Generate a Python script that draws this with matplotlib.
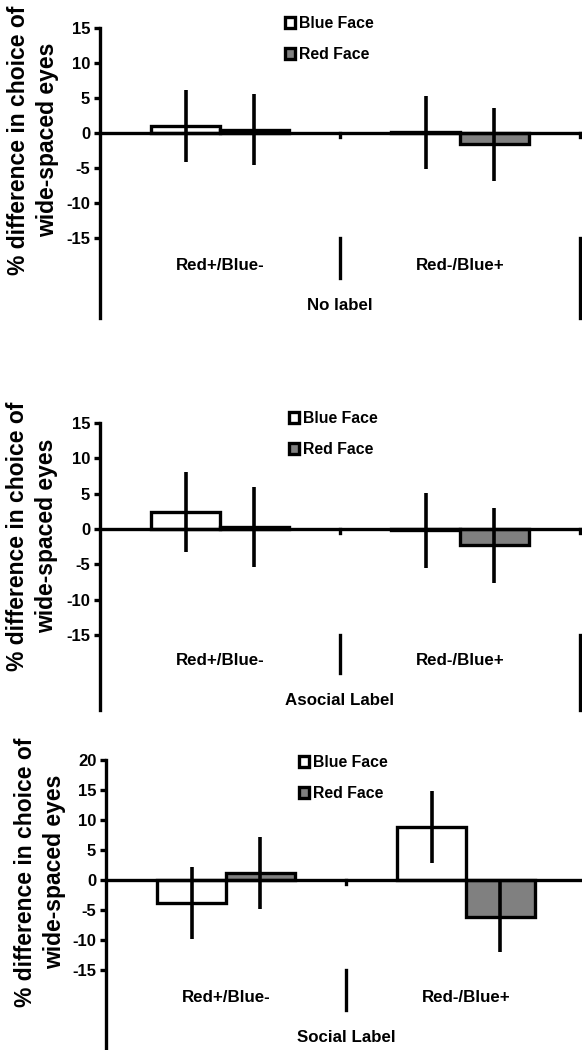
import matplotlib
matplotlib.use("Agg")
import matplotlib.pyplot as plt
import matplotlib.patches as mpatches
import numpy as np

plt.rcParams['font.family'] = ['Liberation Sans', 'DejaVu Sans']
plt.rcParams['font.weight'] = 'bold'

# ---------------- data ----------------
groups = ["Red+/Blue-", "Red-/Blue+"]
series = ["Blue Face", "Red Face"]
panel_titles = ["No label", "Asocial Label", "Social Label"]

blue_mean = [[1.0, 0.1], [2.4, -0.2], [-3.8, 8.9]]
blue_err = [[5.1, 5.2], [5.6, 5.3], [6.0, 6.0]]
red_mean = [[0.5, -1.6], [0.3, -2.3], [1.2, -6.1]]
red_err = [[5.1, 5.2], [5.7, 5.3], [6.0, 5.9]]

yticks_list = [[15, 10, 5, 0, -5, -10, -15],
               [15, 10, 5, 0, -5, -10, -15],
               [20, 15, 10, 5, 0, -5, -10, -15]]
ytop_list = [15, 15, 20]

ylabel = "% difference in choice of\nwide-spaced eyes"

# ---------------- layout (pixels) ----------------
W, H = 582, 1050
fig = plt.figure(figsize=(W / 100, H / 100), dpi=100)

layout = [
    dict(left=100, right=580, ytop_px=28, yzero_px=133, ybot_px=318, sep_px=278,
         cat_px=265, title_px=305, leg_x=285, leg_y=16, lab_x=33, lab_y=140, right_line=True),
    dict(left=100, right=580, ytop_px=423, yzero_px=529, ybot_px=710, sep_px=673,
         cat_px=660, title_px=700, leg_x=289, leg_y=411, lab_x=32, lab_y=536, right_line=True),
    dict(left=106, right=586, ytop_px=760, yzero_px=880, ybot_px=1050, sep_px=1010,
         cat_px=997, title_px=1037, leg_x=299, leg_y=755, lab_x=40, lab_y=872, right_line=False),
]

LW = 2.4
GRAY = "#808080"
bar_w = 1 / 3.5
x = np.arange(len(groups))

for i, L in enumerate(layout):
    scale = (L['yzero_px'] - L['ytop_px']) / ytop_list[i]
    ylo = -(L['ybot_px'] - L['yzero_px']) / scale
    ax = fig.add_axes([L['left'] / W, 1 - L['ybot_px'] / H,
                       (L['right'] - L['left']) / W,
                       (L['ybot_px'] - L['ytop_px']) / H])
    ax.set_xlim(-0.5, 1.5)
    ax.set_ylim(ylo, ytop_list[i])
    ax.patch.set_alpha(0)
    for s in ['top', 'right', 'bottom']:
        ax.spines[s].set_visible(False)
    ax.spines['left'].set_linewidth(LW)
    ax.set_xticks([])
    ax.set_yticks(yticks_list[i])
    ax.set_yticklabels([str(t) for t in yticks_list[i]])
    ax.tick_params(axis='y', length=4, width=LW, labelsize=12, pad=3)

    # bars
    ax.bar(x - bar_w / 2, blue_mean[i], bar_w, facecolor='white', edgecolor='black',
           linewidth=LW, zorder=2)
    ax.bar(x + bar_w / 2, red_mean[i], bar_w, facecolor=GRAY, edgecolor='black',
           linewidth=LW, zorder=2)
    ax.errorbar(x - bar_w / 2, blue_mean[i], yerr=blue_err[i], fmt='none',
                ecolor='black', elinewidth=LW + 0.2, capsize=0, zorder=3)
    ax.errorbar(x + bar_w / 2, red_mean[i], yerr=red_err[i], fmt='none',
                ecolor='black', elinewidth=LW + 0.2, capsize=0, zorder=3)

    # zero axis line + ticks
    ax.axhline(0, color='black', linewidth=LW, zorder=2.5, clip_on=False)
    tick_len = 4 / scale
    ax.plot([0.5, 0.5], [0, -tick_len], color='black', linewidth=LW, clip_on=False)
    ax.plot([1.5, 1.5], [0, -tick_len], color='black', linewidth=LW, clip_on=False)

    # multi-level category separators
    ymin15 = -15
    sep_bot = -(L['sep_px'] - L['yzero_px']) / scale
    ax.plot([0.5, 0.5], [ymin15, sep_bot], color='black', linewidth=LW, clip_on=False)
    if L['right_line']:
        ax.plot([1.5, 1.5], [ymin15, ylo], color='black', linewidth=LW, clip_on=False)

    cat_y = -(L['cat_px'] - L['yzero_px']) / scale
    for gx, g in zip(x, groups):
        ax.text(gx, cat_y, g, ha='center', va='center', fontsize=12.2, fontweight='bold')
    title_y = -(L['title_px'] - L['yzero_px']) / scale
    ax.text(0.5, title_y, panel_titles[i], ha='center', va='center', fontsize=12.2,
            fontweight='bold')

    # legend
    handles = [mpatches.Patch(facecolor='white', edgecolor='black', linewidth=2.4),
               mpatches.Patch(facecolor=GRAY, edgecolor='black', linewidth=2.4)]
    ax.legend(handles, series, loc='upper left',
              bbox_to_anchor=(L['leg_x'] / W, 1 - L['leg_y'] / H),
              bbox_transform=fig.transFigure, frameon=False,
              borderpad=0, borderaxespad=0, handlelength=0.65, handleheight=0.65,
              handletextpad=0.25, labelspacing=1.0,
              prop={'size': 11.4, 'weight': 'bold'})

    # y label
    fig.text(L['lab_x'] / W, 1 - L['lab_y'] / H, ylabel, rotation=90, ha='center',
             va='center', multialignment='center', fontsize=16.5, fontweight='bold',
             linespacing=1.3)

fig.savefig("out.png", dpi=100)
